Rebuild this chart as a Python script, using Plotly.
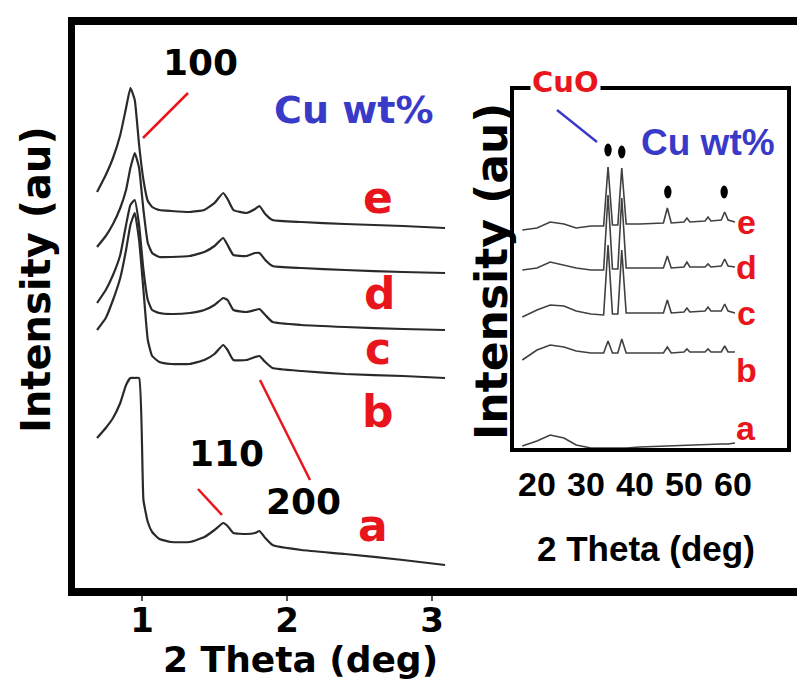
import plotly.graph_objects as go

W, H = 797, 682

# ---------------- main panel data (2 Theta in deg, intensity in a.u.) ----------------
main_x = [0.69, 0.75, 0.80, 0.85, 0.89, 0.92, 0.95, 0.98, 1.01, 1.04, 1.07, 1.12, 1.20,
          1.33, 1.43, 1.50, 1.56, 1.59, 1.63, 1.72, 1.78, 1.81, 1.85, 1.90, 2.10, 2.40, 2.80, 3.09]
main_e = [396, 413, 430, 453, 480, 500, 488, 443, 408, 387, 381, 378, 377,
          376, 378, 385, 395, 389, 378, 375, 379, 382, 374, 368, 366, 364, 362, 360]
main_d = [341, 352, 364, 380, 398, 420, 435, 420, 378, 345, 335, 331, 331,
          332, 336, 342, 350, 343, 333, 332, 335, 335, 328, 322, 320, 318, 316, 315]
main_c = [285, 298, 313, 333, 363, 383, 388, 363, 318, 288, 278, 275, 274,
          275, 278, 283, 290, 288, 278, 276, 278, 279, 273, 266, 263, 261, 259, 258]
main_b = [258, 270, 288, 310, 338, 363, 375, 348, 298, 248, 232, 226, 224,
          224, 228, 234, 243, 238, 228, 228, 231, 232, 226, 220, 217, 214, 212, 210]
main_a = [150, 160, 170, 185, 203, 210, 210, 210, 88, 66, 56, 49, 46,
          46, 51, 58, 65, 62, 55, 54, 55, 57, 50, 43, 38, 34, 28, 23]
main_series = [("e", main_e), ("d", main_d), ("c", main_c), ("b", main_b), ("a", main_a)]
main_ticks = [1, 2, 3]

# ---------------- inset data ----------------
ins_x = [17.0, 20.0, 22.7, 25.5, 28.0, 31.0, 33.6, 34.5, 35.4, 36.5, 37.3, 38.2, 41.0,
         45.8, 46.6, 47.4, 50.0, 50.6, 51.2, 54.3, 54.9, 55.5, 57.6, 58.3, 59.0, 60.4]
ins_e = [218, 220, 226, 224, 220, 222, 222, 281, 223, 223, 280, 224, 224,
         225, 240, 225, 226, 230, 226, 227, 231, 227, 228, 236, 228, 226]
ins_d = [178, 180, 186, 183, 180, 178, 178, 253, 179, 179, 250, 180, 180,
         180, 192, 180, 181, 186, 181, 181, 184, 181, 182, 189, 182, 181]
ins_c = [131, 138, 143, 142, 137, 134, 133, 203, 134, 134, 198, 135, 135,
         135, 148, 135, 136, 140, 136, 137, 141, 137, 137, 144, 137, 135]
ins_b = [88, 98, 103, 101, 97, 95, 95, 107, 95, 95, 109, 95, 95,
         95, 101, 95, 96, 99, 96, 96, 99, 96, 96, 102, 96, 96]
ins_a = [2, 7, 13, 10, 3, 0, 0, 0, 0, 0, 0, 0, 1,
         2, 2, 2, 3, 3, 3, 4, 4, 4, 4, 4, 4, 5]
ins_series = [("e", ins_e), ("d", ins_d), ("c", ins_c), ("b", ins_b), ("a", ins_a)]
ins_ticks = [20, 30, 40, 50, 60]
cuo_peaks_x = [34.5, 37.3, 46.7, 58.2]
cuo_peaks_y = [298, 296, 256, 256]

RED = "#e8161c"
BLUE = "#3a3ac8"
BOLD = "DejaVu Sans"
NARROW = "Liberation Sans Narrow, Liberation Sans, Arial"


def P(px, py):
    return px / W, 1 - py / H


fig = go.Figure()
for name, ys in main_series:
    fig.add_trace(go.Scatter(x=main_x, y=ys, mode="lines", name=name,
                             line=dict(color="#2a2a2a", width=2.2, shape="spline", smoothing=0.4),
                             xaxis="x", yaxis="y", showlegend=False))
for name, ys in ins_series:
    fig.add_trace(go.Scatter(x=ins_x, y=ys, mode="lines", name=name,
                             line=dict(color="#404040", width=1.6), xaxis="x2", yaxis="y2",
                             showlegend=False))

# main axes: plot area from px 74.5..797 and py 25..588
mx0, mx1 = P(74.5, 0)[0], 1.0
my0, my1 = P(0, 588)[1], P(0, 25)[1]
ix0, ix1 = P(514, 0)[0], P(787, 0)[0]
iy0, iy1 = P(0, 448)[1], P(0, 90)[1]

fig.update_layout(
    width=W, height=H, margin=dict(l=0, r=0, t=0, b=0),
    paper_bgcolor="white", plot_bgcolor="white", showlegend=False,
    xaxis=dict(domain=[mx0, mx1], range=[0.5345, 5.517], tickvals=main_ticks,
               ticktext=[str(t) for t in main_ticks], showgrid=False, zeroline=False,
               showline=True, linecolor="black", linewidth=8, mirror=True,
               ticks="outside", ticklen=5, tickwidth=2, tickcolor="#555",
               tickfont=dict(family=BOLD, size=34, color="black", weight="bold"),
               ticklabelstandoff=-10),
    yaxis=dict(domain=[my0, my1], range=[0, 563], showticklabels=False, ticks="",
               showgrid=False, zeroline=False, showline=True, linecolor="black",
               linewidth=7),
    xaxis2=dict(domain=[ix0, ix1], range=[15.31, 71.02], anchor="y2", tickvals=ins_ticks,
                ticktext=[str(t) for t in ins_ticks], showgrid=False, zeroline=False,
                showline=True, linecolor="black", linewidth=3.5, mirror=True, ticks="",
                tickfont=dict(family=NARROW, size=34, color="black", weight="bold"),
                ticklabelstandoff=3),
    yaxis2=dict(domain=[iy0, iy1], range=[0, 358], anchor="x2", showticklabels=False,
                ticks="", showgrid=False, zeroline=False, showline=True,
                linecolor="black", linewidth=3.5, mirror=True),
)

# inset background to cover the main plot area
fig.add_shape(type="rect", xref="paper", yref="paper", x0=ix0, x1=ix1, y0=iy0, y1=iy1,
              fillcolor="white", line=dict(width=0), layer="below")

ann = []


def text(px, py, s, size, color, family=BOLD, angle=0, bg=None):
    x, y = P(px, py)
    d = dict(x=x, y=y, xref="paper", yref="paper", text=s, showarrow=False,
             font=dict(family=family, size=size, color=color, weight="bold"),
             xanchor="center", yanchor="middle", textangle=angle)
    if bg:
        d["bgcolor"] = bg
    ann.append(d)


# main panel texts
text(200, 62, "100", 36, "black")
text(354, 110, "Cu wt%", 38, BLUE)
text(226, 453, "110", 36, "black")
text(303, 501, "200", 36, "black")
for lab, px, py in [("e", 378, 198), ("d", 380, 293), ("c", 378, 348), ("b", 378, 411), ("a", 373, 525)]:
    text(px, py, lab, 44, RED)
text(36, 280, "Intensity (au)", 40, "black", angle=-90)
text(300, 659, "2 Theta (deg)", 36, "black")

# inset texts
text(565, 82, "CuO", 29, RED, bg="white")
text(708, 142, "Cu wt%", 37, BLUE, family=NARROW)
for lab, py in [("e", 222), ("d", 267), ("c", 313), ("b", 370), ("a", 428)]:
    text(746, py, lab, 34, RED, family=NARROW)
text(491, 272, "Intensity (au)", 44, "black", angle=-90)
text(646, 548, "2 Theta (deg)", 35, "black", family=NARROW)

fig.update_layout(annotations=ann)

# leader lines
for (a, b, c, d, col) in [(188, 93, 143, 138, RED), (198, 489, 222, 515, RED),
                          (260, 380, 310, 480, RED), (557, 110, 597, 142, BLUE)]:
    x0, y0 = P(a, b)
    x1, y1 = P(c, d)
    fig.add_shape(type="line", xref="paper", yref="paper", x0=x0, y0=y0, x1=x1, y1=y1,
                  line=dict(color=col, width=2.5))

# CuO peak markers (black ovals) in inset data coordinates
for cx, cy in zip(cuo_peaks_x, cuo_peaks_y):
    fig.add_shape(type="circle", xref="x2", yref="y2", x0=cx - 0.75, x1=cx + 0.75,
                  y0=cy - 6.5, y1=cy + 6.5, fillcolor="black", line=dict(width=0))

fig.write_html("out.html", config={"displayModeBar": False},
               post_script="document.body.style.margin='0';document.body.style.overflow='hidden';")
